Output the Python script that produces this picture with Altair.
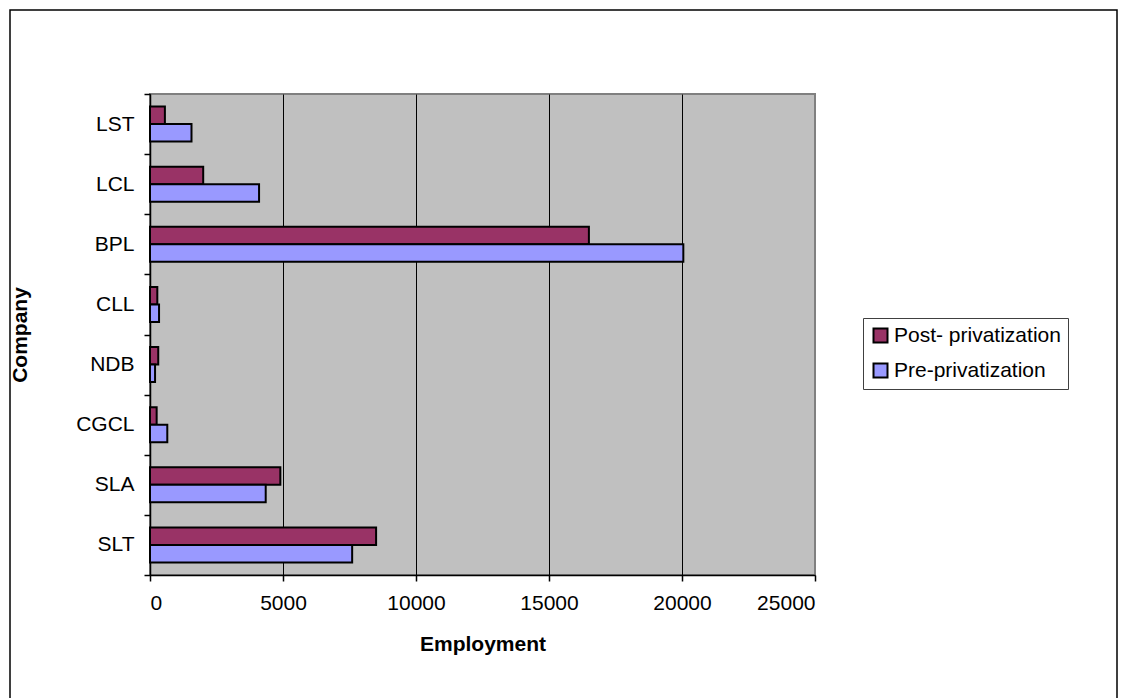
import altair as alt
import pandas as pd

companies = ["LST", "LCL", "BPL", "CLL", "NDB", "CGCL", "SLA", "SLT"]
post_priv = [560, 2000, 16500, 275, 310, 250, 4900, 8500]
pre_priv = [1560, 4100, 20050, 340, 190, 650, 4350, 7600]
series = ["Post- privatization", "Pre-privatization"]
colors = ["#993366", "#9999FF"]
x_ticks = [0, 5000, 10000, 15000, 20000, 25000]

rows = []
for c, a, b in zip(companies, post_priv, pre_priv):
    rows.append({"Company": c, "Series": series[0], "Employment": a})
    rows.append({"Company": c, "Series": series[1], "Employment": b})
df = pd.DataFrame(rows)

FONT = "Liberation Sans"
FS = 21

bars = alt.Chart(df).mark_bar(stroke="black", strokeWidth=2).encode(
    x=alt.X(
        "Employment:Q",
        scale=alt.Scale(domain=[0, 25000], nice=False),
        axis=alt.Axis(
            values=x_ticks,
            format="d",
            title="Employment",
            grid=True,
            gridColor=alt.condition("datum.value == 25000", alt.value("#808080"), alt.value("black")),
            gridWidth=1,
            tickSize=6,
            labelPadding=11,
            titlePadding=20,
        ),
    ),
    y=alt.Y(
        "Company:N",
        sort=companies,
        scale=alt.Scale(paddingInner=0, paddingOuter=0),
        axis=alt.Axis(
            title="Company",
            tickBand="extent",
            tickSize=6,
            labelPadding=10,
            grid=False,
            titleX=-120,
        ),
    ),
    yOffset=alt.YOffset(
        "Series:N", sort=series, scale=alt.Scale(paddingInner=0, paddingOuter=0.714)
    ),
    fill=alt.Fill(
        "Series:N",
        scale=alt.Scale(domain=series, range=colors),
        legend=alt.Legend(
            title=None,
            orient="none",
            legendX=713,
            legendY=224,
            strokeColor="#404040",
            fillColor="white",
            padding=7,
            rowPadding=12,
            symbolType="square",
            symbolSize=196,
            symbolStrokeColor="black",
            symbolStrokeWidth=2,
            symbolOpacity=1,
            labelFont=FONT,
            labelFontSize=FS,
            labelColor="black",
            labelOffset=3,
            labelLimit=400,
        ),
    ),
)

frame = alt.Chart(pd.DataFrame({"a": [0]})).mark_rect(
    fill="white", fillOpacity=0, stroke="black", strokeWidth=1.5
).encode(
    x=alt.value(-140), x2=alt.value(967), y=alt.value(-84), y2=alt.value(700)
)

chart = alt.layer(bars, frame).properties(
    width=665,
    height=481,
    padding={"left": 150, "top": 94, "right": 313, "bottom": 123},
    autosize=alt.AutoSizeParams(type="none"),
    background="white",
).configure_view(
    fill="#C0C0C0", stroke="#808080", strokeWidth=2
).configure_axis(
    labelFont=FONT,
    labelFontSize=FS,
    labelColor="black",
    titleFont=FONT,
    titleFontSize=FS,
    titleFontWeight="bold",
    titleColor="black",
    domainColor="black",
    domainWidth=1.5,
    tickColor="black",
    tickWidth=1.5,
)

chart.save("out.html", embed_options={"renderer": "svg", "actions": False})
